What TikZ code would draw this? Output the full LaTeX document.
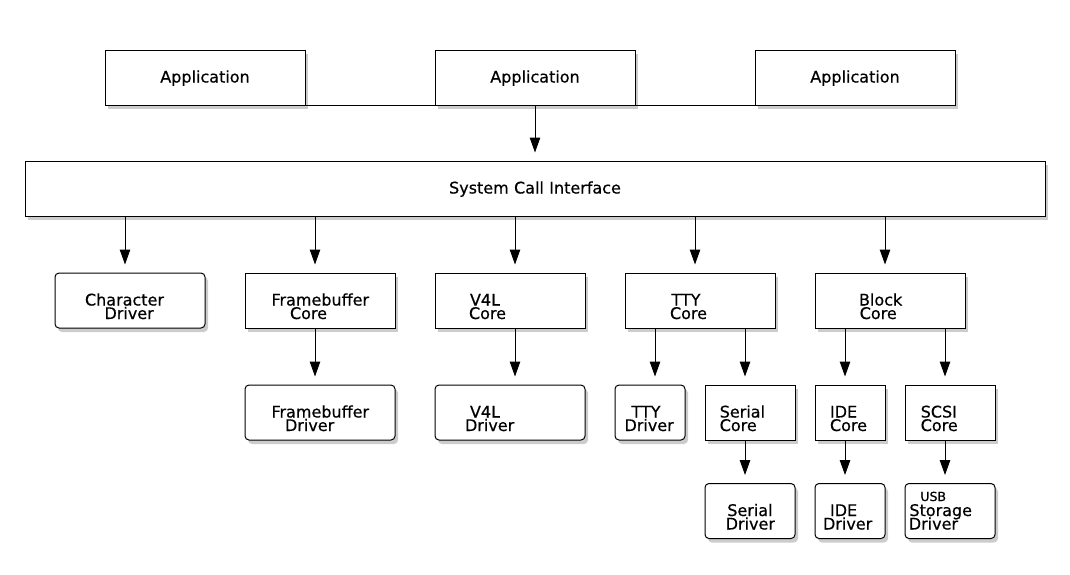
\documentclass[tikz,border=0pt]{standalone}
\usepackage{fontspec}
\setmainfont{DejaVu Sans}[FakeBold=0.5]
\usetikzlibrary{arrows.meta,positioning,shadows}

\newcommand{\lpad}[1]{\hspace*{#1pt}}

\begin{document}
\begin{tikzpicture}[x=1pt, y=-1pt, >={Triangle[length=15pt,width=10.5pt]},
  block/.style={draw, line width=1pt, fill=white, minimum height=55pt,
    inner xsep=0pt, inner ysep=0pt, text height=10pt, text depth=0pt, align=left,
    font={\fontsize{16pt}{13.5pt}\selectfont\lineskiplimit=-\maxdimen},
    drop shadow={shadow xshift=3pt, shadow yshift=-4pt, fill=black!40}},
  core/.style={block},
  driver/.style={block, rounded corners=4pt},
  flow/.style={->, line width=1pt, shorten >=8pt}]
\useasboundingbox (0,0) rectangle (1070,574);

% Applications
\node[core, text width=200pt, align=center] (app1) at (205,77.5) {Application};
\node[core, text width=200pt, align=center] (app2) at (535,77.5) {Application};
\node[core, text width=200pt, align=center] (app3) at (855,77.5) {Application};

% System call layer
\node[core, text width=1020pt, align=center] (sci) at (535,188.5) {System Call Interface};

% Subsystem cores
\node[driver, text width=150pt] (chardrv) at (130,300.5) {\lpad{30}Character\\\lpad{49.5}Driver};
\node[core, text width=150pt] (fbcore) at (320,300.5) {\lpad{26.5}Framebuffer\\\lpad{45}Core};
\node[core, text width=150pt] (v4lcore) at (510,300.5) {\lpad{35}V4L\\\lpad{34}Core};
\node[core, text width=150pt] (ttycore) at (700,300.5) {\lpad{46.5}TTY\\\lpad{45}Core};
\node[core, text width=150pt] (blkcore) at (890,300.5) {\lpad{44}Block\\\lpad{44.7}Core};

% Second level
\node[driver, text width=150pt] (fbdrv) at (320,412.5) {\lpad{26.5}Framebuffer\\\lpad{40}Driver};
\node[driver, text width=150pt] (v4ldrv) at (510,412.5) {\lpad{35}V4L\\\lpad{30}Driver};
\node[driver, text width=70pt] (ttydrv) at (650,412.5) {\lpad{16.5}TTY\\\lpad{9.5}Driver};
\node[core, text width=90pt] (sercore) at (750,412.5) {\lpad{14.7}Serial\\\lpad{14.7}Core};
\node[core, text width=70pt] (idecore) at (850,412.5) {\lpad{15}IDE\\\lpad{15}Core};
\node[core, text width=90pt] (scsicore) at (950,412.5) {\lpad{15.7}SCSI\\\lpad{15.7}Core};

% Bottom drivers
\node[driver, text width=90pt] (serdrv) at (750,511) {\lpad{22.3}Serial\\\lpad{20.7}Driver};
\node[driver, text width=70pt] (idedrv) at (850,511) {\lpad{15}IDE\\\lpad{8}Driver};
\node[driver, text width=90pt, text height=0pt, text depth=20pt] (usbdrv) at (950,511)
  {\lpad{15.4}{\fontsize{12.5pt}{13.5pt}\selectfont USB}\\[1.5pt]\lpad{4.4}Storage\\\lpad{3.8}Driver};

% Application links
\draw[line width=1pt] (app1.south east) -- (app2.south west) (app2.south east) -- (app3.south west);
\draw[flow] (app2.south) -- (sci.north);

% System call fan-out
\draw[flow] ([xshift=-5pt]chardrv.north |- sci.south) -- ([xshift=-5pt]chardrv.north);
\draw[flow] ([xshift=-5pt]fbcore.north |- sci.south) -- ([xshift=-5pt]fbcore.north);
\draw[flow] ([xshift=5pt]v4lcore.north |- sci.south) -- ([xshift=5pt]v4lcore.north);
\draw[flow] ([xshift=-5pt]ttycore.north |- sci.south) -- ([xshift=-5pt]ttycore.north);
\draw[flow] ([xshift=-5pt]blkcore.north |- sci.south) -- ([xshift=-5pt]blkcore.north);

% Core to driver
\draw[flow] ([xshift=-5pt]fbdrv.north |- fbcore.south) -- ([xshift=-5pt]fbdrv.north);
\draw[flow] ([xshift=5pt]v4ldrv.north |- v4lcore.south) -- ([xshift=5pt]v4ldrv.north);
\draw[flow] ([xshift=5pt]ttydrv.north |- ttycore.south) -- ([xshift=5pt]ttydrv.north);
\draw[flow] ([xshift=-5pt]sercore.north |- ttycore.south) -- ([xshift=-5pt]sercore.north);
\draw[flow] ([xshift=-5pt]idecore.north |- blkcore.south) -- ([xshift=-5pt]idecore.north);
\draw[flow] ([xshift=-5pt]scsicore.north |- blkcore.south) -- ([xshift=-5pt]scsicore.north);
\draw[flow] ([xshift=-5pt]serdrv.north |- sercore.south) -- ([xshift=-5pt]serdrv.north);
\draw[flow] ([xshift=-5pt]idedrv.north |- idecore.south) -- ([xshift=-5pt]idedrv.north);
\draw[flow] ([xshift=-5pt]usbdrv.north |- scsicore.south) -- ([xshift=-5pt]usbdrv.north);
\end{tikzpicture}
\end{document}
